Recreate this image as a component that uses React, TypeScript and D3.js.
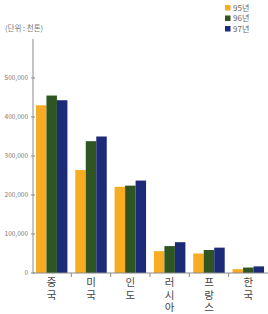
import * as d3 from "d3";

const countries = ["중국", "미국", "인도", "러시아", "프랑스", "한국"];
const years = ["95년", "96년", "97년"];
const values95 = [430000, 264000, 221000, 56000, 50000, 10000];
const values96 = [455000, 338000, 224000, 69000, 59000, 14000];
const values97 = [443000, 350000, 237000, 79000, 65000, 17000];
const yTicks = [0, 100000, 200000, 300000, 400000, 500000];
const colors = ["#F7AC22", "#2F5522", "#1B2B78"];

const width = 268;
const height = 314;
const font = "'Noto Sans CJK KR', 'Noto Sans', sans-serif";

const App = () => {
  const series = [values95, values96, values97];
  const x = d3.scaleBand().domain(countries).range([34, 266]).paddingInner(0.2).paddingOuter(0.05);
  const xs = d3.scaleBand().domain(years).range([0, x.bandwidth()]);
  const y = d3.scaleLinear().domain([0, 600000]).range([273, 39]);
  const fmt = d3.format(",");
  const axisColor = "#8a8a8a";
  const gapHalf = (x.step() * x.paddingInner()) / 2;

  return (
    <svg
      width={width}
      height={height}
      viewBox={`0 0 ${width} ${height}`}
      style={{ position: "absolute", left: 0, top: 0, fontFamily: font }}
    >
      <rect width={width} height={height} fill="#fff" />
      <text x={5} y={31} fontSize={7.5} fill="#777">(단위 : 천톤)</text>

      {/* bars */}
      {countries.map((c, i) => (
        <g key={c} transform={`translate(${x(c)},0)`}>
          {years.map((yr, j) => (
            <rect
              key={yr}
              x={xs(yr)}
              y={y(series[j][i])}
              width={xs.bandwidth()}
              height={y(0) - y(series[j][i])}
              fill={colors[j]}
            />
          ))}
        </g>
      ))}

      {/* y axis */}
      <line x1={33} x2={33} y1={y(600000)} y2={y(0)} stroke={axisColor} strokeWidth={1} />
      {yTicks.map((t) => (
        <g key={t}>
          <line x1={31} x2={35} y1={y(t)} y2={y(t)} stroke={axisColor} />
          <text x={28} y={y(t)} dy="0.35em" textAnchor="end" fontSize={6.5} fill="#777">
            {fmt(t)}
          </text>
        </g>
      ))}

      {/* x axis */}
      <line x1={33} x2={268} y1={y(0)} y2={y(0)} stroke={axisColor} />
      {countries.slice(1).map((c) => (
        <line
          key={c}
          x1={(x(c) ?? 0) - gapHalf}
          x2={(x(c) ?? 0) - gapHalf}
          y1={y(0)}
          y2={y(0) + 4}
          stroke={axisColor}
        />
      ))}
      {countries.map((c) => (
        <text key={c} textAnchor="middle" fontSize={10.5} fill="#444">
          {Array.from(c).map((ch, k) => (
            <tspan key={k} x={(x(c) ?? 0) + x.bandwidth() / 2} y={286 + k * 12.5}>
              {ch}
            </tspan>
          ))}
        </text>
      ))}

      {/* legend */}
      {years.map((yr, j) => (
        <g key={yr} transform={`translate(225,${5 + j * 10.5})`}>
          <rect width={5.5} height={5.5} fill={colors[j]} />
          <text x={8} y={3} dy="0.35em" fontSize={8} fill="#666">{yr}</text>
        </g>
      ))}
    </svg>
  );
};

export default App;
